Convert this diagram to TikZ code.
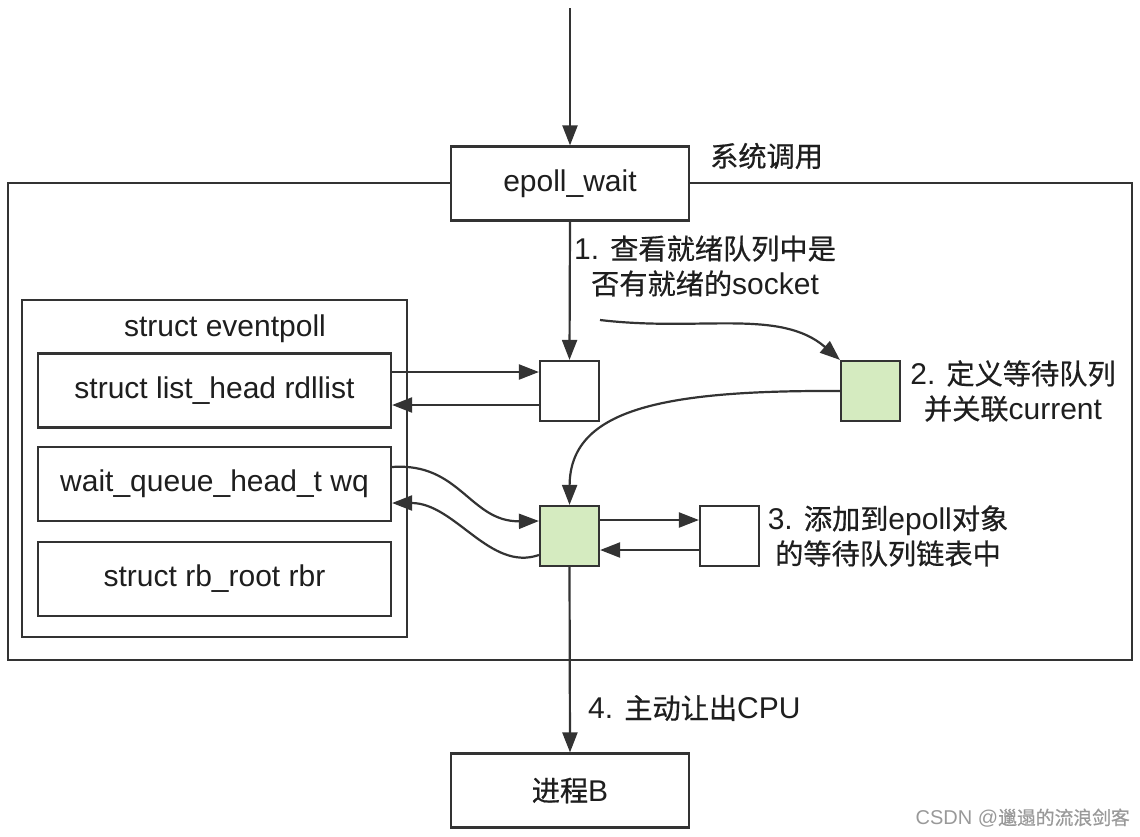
\documentclass[tikz,border=0pt]{standalone}
\usepackage{fontspec}
\setmainfont{Liberation Sans}
\newfontfamily\cjk{Noto Sans CJK SC}[Scale=0.94, FakeBold=0.6]
\usetikzlibrary{arrows.meta}
\definecolor{lgreen}{RGB}{213,235,192}
\definecolor{ink}{RGB}{51,51,51}
\definecolor{txt}{RGB}{30,30,30}
\begin{document}
\begin{tikzpicture}[x=1pt,y=-1pt,
  line/.style={draw=ink, line width=2.2pt},
  arr/.style={line, -{Triangle[length=20pt,width=15pt]}},
  box/.style={line, fill=white, minimum width=238pt, minimum height=74pt, inner sep=0pt, text=txt, font=\fontsize{30}{36}\selectfont},
  inbox/.style={line, fill=white, minimum width=353pt, minimum height=74pt, inner sep=0pt, text=txt, font=\fontsize{30}{36}\selectfont},
  sq/.style={line, fill=white, minimum width=59pt, minimum height=60pt, inner sep=0pt},
  gsq/.style={sq, fill=lgreen},
  lbl/.style={font=\fontsize{30}{35}\selectfont, align=center, inner sep=0pt, text=txt}
]
\useasboundingbox (0,0) rectangle (1140,836);
% outer frame
\draw[line] (8,183) rectangle (1132,660);
% struct eventpoll
\node[line, minimum width=385pt, minimum height=337pt, inner sep=0pt] (ep) at (214.5,468.5) {};
\node[lbl] (eptitle) at (225,329) {struct eventpoll};
\node[inbox] (rdl) at (214.5,390.5) {struct list\_head rdllist};
\node[inbox] (wq) at (214.5,484) {wait\_queue\_head\_t wq};
\node[inbox] (rbr) at (214.5,579) {struct rb\_root rbr};
% top boxes
\coordinate (top) at (570,8);
\node[box] (epw) at (570,183.5) {epoll\_wait};
\node[lbl, anchor=west] (sys) at (710,156) {\cjk 系统调用};
\node[box] (proc) at (570,790.5) {{\cjk 进程}B};
% squares
\node[sq] (s1) at (569.5,391) {};
\node[gsq] (g2) at (870.5,391) {};
\node[gsq] (g3) at (569.5,536) {};
\node[sq] (s4) at (729.5,536) {};
% labels
\node[lbl] (l1) at (705,266) {1. {\cjk 查看就绪队列中是}\\{\cjk 否有就绪的}socket};
\node[lbl] (l2) at (1013,391) {2. {\cjk 定义等待队列}\\{\cjk 并关联}current};
\node[lbl] (l3) at (888,536) {3. {\cjk 添加到}epoll{\cjk 对象}\\{\cjk 的等待队列链表中}};
\node[lbl, anchor=west] (l4) at (588,708) {4. {\cjk 主动让出}CPU};
\node[font=\fontsize{20}{22}\selectfont, text=black!40, anchor=east, inner sep=0pt] (wm) at (1130,818) {CSDN @{\cjk 邋遢的流浪剑客}};
% connectors
\draw[arr] (top) -- (epw.north);
\draw[arr] (epw.south) -- (s1.north);
\draw[arr] (rdl.east |- 0,372) -- (s1.west |- 0,372);
\draw[arr] (s1.west |- 0,405) -- (rdl.east |- 0,405);
\coordinate (cstart) at (600,320);
\draw[arr] (cstart) .. controls (700,332) and (780,308) .. (g2.north west);
\draw[arr] (g2.west) .. controls (660,390) and (570,410) .. (g3.north);
\draw[arr] (wq.east |- 0,467) .. controls (460,462) and (470,522) .. (g3.west |- 0,521);
\draw[arr] (g3.west |- 0,555) .. controls (490,572) and (455,503) .. (wq.east |- 0,503);
\draw[arr] (g3.east |- 0,520) -- (s4.west |- 0,520);
\draw[arr] (s4.west |- 0,550) -- (g3.east |- 0,550);
\draw[arr] (g3.south) -- (proc.north);
\end{tikzpicture}
\end{document}
